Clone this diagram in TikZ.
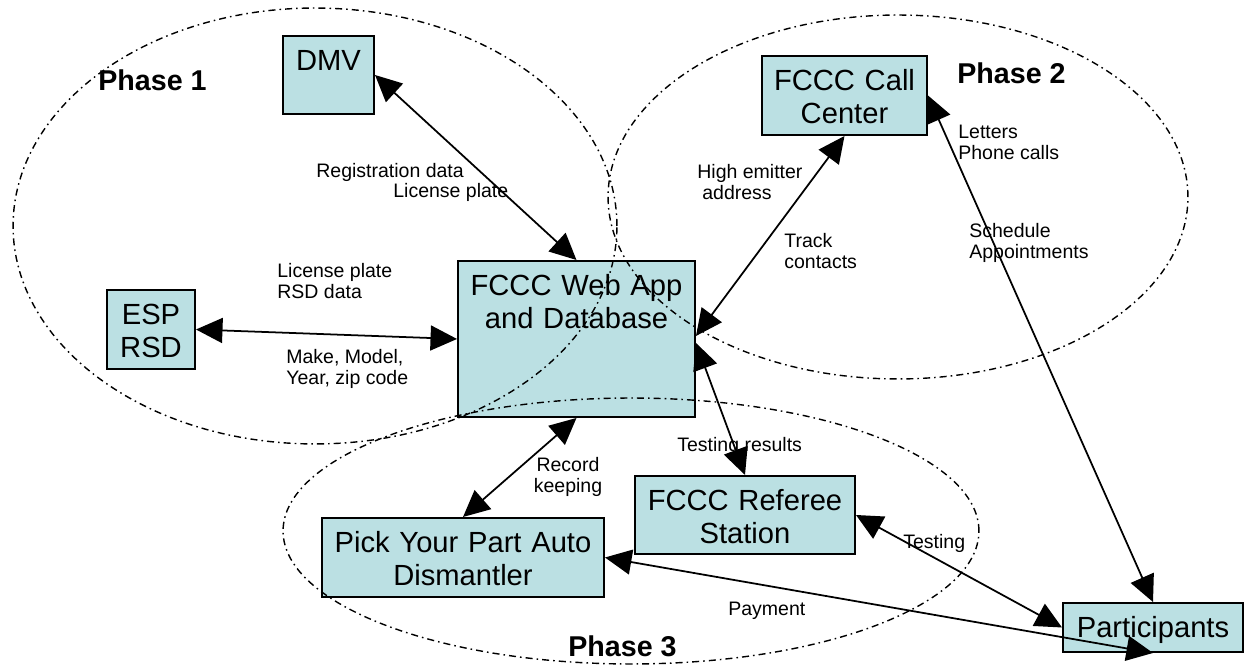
\documentclass[tikz,border=0pt]{standalone}
\usepackage{fontspec}
\setmainfont{Liberation Sans}
\usetikzlibrary{arrows.meta}
\definecolor{boxfill}{RGB}{187,224,227}
\tikzset{
	box/.style={draw=black, line width=0.04cm, fill=boxfill, align=center, anchor=north,
		inner xsep=0pt, inner ysep=0.26cm, text height=0.43cm, font=\fontsize{16.6}{19}\selectfont},
	link/.style={line width=1pt, {Triangle[length=0.53cm,width=0.5cm]}-{Triangle[length=0.53cm,width=0.5cm]}},
	lbl/.style={inner sep=0pt, anchor=north west, align=left, font=\fontsize{11.1}{12}\selectfont},
	phase/.style={line width=0.8pt, dash pattern=on 4pt off 2.3pt on 0.9pt off 2.3pt},
	phaselbl/.style={inner sep=0pt, anchor=north west, font=\fontsize{16.3}{19}\selectfont\bfseries}
}

\begin{document}
\begin{tikzpicture}[x=0.02cm, y=-0.02cm]
		%%%%% START %%%%%
		\useasboundingbox (0,0) rectangle (1245,671);
		
		\node[box, text width=1.82cm, text depth=0.61cm] (dmv) at (328.5,35) {DMV};
		\node[box, text width=3.30cm, text depth=0.63cm] (callctr) at (844.5,55) {FCCC Call\\Center};
		\node[box, text width=1.76cm, text depth=0.63cm] (esp) at (151,289) {ESP\\RSD};
		\node[box, text width=4.74cm, text depth=2.17cm] (webapp) at (576.5,260) {FCCC Web App\\and Database};
		\node[box, text width=4.40cm, text depth=0.61cm] (referee) at (745,475) {FCCC Referee\\Station};
		\node[box, text width=5.64cm, text depth=0.63cm] (pyp) at (463,517) {Pick Your Part Auto\\Dismantler};
		\node[box, text width=3.60cm, text depth=0.03cm] (participants) at (1153,602) {Participants};
		
		% phases
		\draw[phase] (315,226) ellipse [x radius=6.04cm, y radius=4.36cm];
		\draw[phase] (898,197) ellipse [x radius=5.80cm, y radius=3.64cm];
		\draw[phase] (631,531) ellipse [x radius=6.96cm, y radius=2.66cm];
		
		\node[phaselbl] (ph1) at (98,69) {Phase 1};
		\node[phaselbl] (ph2) at (957,62) {Phase 2};
		\node[phaselbl] (ph3) at (568,635) {Phase 3};
		
		% data flows
		\draw[link] (dmv.east) -- (webapp.north);
		\draw[link] (esp.east) -- (webapp.west);
		\draw[link] ([yshift=0.06cm]webapp.east) -- (callctr.south);
		\draw[link] ([yshift=-0.08cm]webapp.east) -- (referee.north);
		\draw[link] (webapp.south) -- (pyp.north);
		\draw[link] (referee.east) -- (participants.west);
		\draw[link] (pyp.east) -- (participants.south);
		\draw[link] (callctr.east) -- (participants.north);
		
		\node[lbl] (reglbl) at (316,163) {Registration data};
		\node[lbl] (platelbl) at (393,183) {License plate};
		\node[lbl] (rsdlbl) at (277,263) {License plate\\RSD data};
		\node[lbl] (vehlbl) at (286,349) {Make, Model,\\Year, zip code};
		\node[lbl] (emitlbl) at (697,164) {High emitter\\\hspace*{0.1cm}address};
		\node[lbl] (tracklbl) at (784,233) {Track\\contacts};
		\node[lbl] (letterlbl) at (958,125) {Letters\\Phone calls};
		\node[lbl] (schedlbl) at (969,223) {Schedule\\Appointments};
		\node[lbl, anchor=north, align=center] (recordlbl) at (568,457) {Record\\keeping};
		\node[lbl] (resultlbl) at (677,437) {Testing results};
		\node[lbl] (testlbl) at (903,534) {Testing};
		\node[lbl] (paylbl) at (728,602) {Payment};
		
		%%%%% END %%%%%
\end{tikzpicture}
\end{document}
